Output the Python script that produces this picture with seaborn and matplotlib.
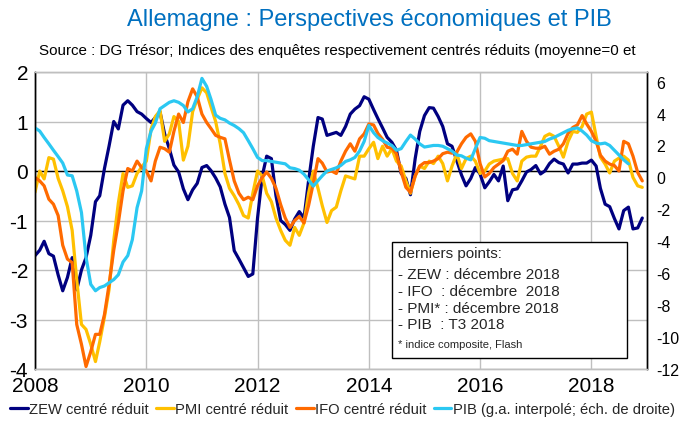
#%% libraries
import numpy as np
import pandas as pd
import matplotlib
matplotlib.use("Agg")
import matplotlib.pyplot as plt
import matplotlib.dates as mdates
from matplotlib.patches import Rectangle
import seaborn as sns

#%% data (monthly, Jan 2008 - Dec 2018)
dates = pd.date_range("2008-01-01", periods=132, freq="MS")

# ZEW, centred-reduced (left axis)
zew = [
    -1.71, -1.6, -1.42, -1.67, -1.72, -2.1, -2.42, -2.15, -1.75, -2.4, -2.0, -1.75,   # 2008
    -1.3, -0.62, -0.5, 0.05, 0.5, 1.0, 0.85, 1.33, 1.42, 1.33, 1.2, 1.15,             # 2009
    1.06, 0.98, 1.08, 1.19, 0.75, 0.45, 0.12, -0.02, -0.36, -0.58, -0.38, -0.25,      # 2010
    0.07, 0.11, 0.01, -0.14, -0.32, -0.67, -0.94, -1.61, -1.78, -1.95, -2.13, -2.08,  # 2011
    -0.95, -0.1, 0.3, 0.25, -0.5, -1.0, -1.08, -1.2, -0.97, -0.82, -0.95, -0.2,       # 2012
    0.5, 1.08, 1.05, 0.72, 0.75, 0.78, 0.72, 0.9, 1.15, 1.25, 1.32, 1.5,              # 2013
    1.45, 1.24, 1.06, 0.87, 0.68, 0.58, 0.42, -0.05, -0.15, -0.48, 0.25, 0.8,         # 2014
    1.12, 1.28, 1.27, 1.1, 0.9, 0.55, 0.5, 0.21, -0.08, -0.3, -0.15, 0.07,            # 2015
    -0.06, -0.34, -0.22, -0.07, -0.2, 0.1, -0.6, -0.38, -0.36, -0.2, -0.02, 0.03,     # 2016
    0.11, -0.06, 0.0, 0.15, 0.24, 0.17, 0.14, -0.04, 0.14, 0.14, 0.16, 0.16,          # 2017
    0.22, 0.1, -0.35, -0.67, -0.72, -0.96, -1.17, -0.8, -0.73, -1.17, -1.15, -0.95,   # 2018
]

# PMI composite, centred-reduced (left axis)
pmi = [
    -0.43, 0.0, -0.16, 0.27, 0.24, -0.15, -0.4, -0.72, -1.2, -2.2, -3.1, -3.2,
    -3.5, -3.85, -3.45, -2.95, -2.4, -1.4, -0.65, -0.05, -0.33, -0.3, -0.05, 0.08,
    0.2, 0.85, 1.1, 1.22, 0.6, 0.75, 1.1, 1.0, 0.22, 0.5, 1.2, 1.45,
    1.68, 1.58, 1.3, 1.0, 0.55, -0.05, -0.35, -0.5, -0.68, -0.9, -0.95, -0.45,
    0.0, -0.1, -0.45, -0.62, -0.95, -1.2, -1.4, -1.5, -1.14, -1.3, -1.05, -0.45,
    0.0, -0.35, -0.7, -1.04, -0.8, -0.73, -0.4, -0.1, -0.13, -0.16, 0.3, 0.3,
    0.45, 0.58, 0.25, 0.5, 0.3, 0.45, 0.2, 0.1, -0.2, -0.45, -0.1, 0.1,
    0.05, 0.2, 0.15, 0.3, 0.15, -0.2, 0.1, 0.35, 0.05, 0.25, 0.3, 0.2,
    -0.05, 0.0, 0.14, 0.2, 0.22, 0.24, 0.25, -0.05, -0.2, 0.2, 0.28, 0.3,
    0.3, 0.5, 0.7, 0.75, 0.7, 0.5, 0.28, 0.6, 0.8, 0.78, 0.9, 1.15,
    1.19, 0.7, 0.28, 0.14, -0.04, 0.2, 0.26, 0.3, 0.22, -0.13, -0.3, -0.33,
]

# IFO, centred-reduced (left axis)
ifo = [
    -0.13, -0.2, -0.3, -0.57, -0.67, -0.9, -1.5, -1.78, -1.85, -3.1, -3.5, -3.95,
    -3.65, -3.3, -3.3, -2.9, -2.3, -1.6, -1.05, -0.4, 0.05, 0.0, 0.2, 0.07,
    0.0, -0.2, 0.2, 0.48, 0.45, 0.38, 0.8, 1.15, 0.98, 1.4, 1.66, 1.5,
    1.15, 0.98, 0.86, 0.72, 0.68, 0.65, 0.22, -0.2, -0.45, -0.58, -0.53, -0.58,
    -0.3, -0.13, -0.02, -0.15, -0.35, -0.68, -0.95, -1.14, -1.0, -0.92, -1.05, -0.7,
    -0.25, 0.25, 0.16, -0.02, 0.0, -0.05, 0.2, 0.4, 0.55, 0.4, 0.65, 0.75,
    0.95, 0.93, 0.76, 0.64, 0.48, 0.46, 0.35, -0.02, -0.33, -0.43, -0.1, 0.1,
    0.17, 0.17, 0.2, 0.25, 0.35, 0.38, 0.36, 0.38, 0.55, 0.68, 0.75, 0.6,
    0.15, -0.12, -0.05, 0.07, 0.14, 0.21, 0.4, 0.44, 0.34, 0.8, 0.6, 0.48,
    0.46, 0.46, 0.5, 0.34, 0.4, 0.44, 0.55, 0.76, 0.88, 0.93, 1.12, 0.95,
    0.8, 0.6, 0.32, 0.2, 0.14, 0.11, 0.0, 0.6, 0.55, 0.3, -0.03, -0.2,
]

# PIB, g.a. in % (right axis), up to T3 2018
pib = [
    3.1, 2.9, 2.5, 2.1, 1.7, 1.3, 0.9, 0.15, 0.1, -0.85, -2.2, -5.0,
    -6.7, -7.1, -6.9, -6.8, -6.6, -6.4, -6.1, -5.3, -4.9, -3.9, -1.9, -0.85,
    1.8, 2.9, 3.4, 4.3, 4.5, 4.7, 4.8, 4.7, 4.5, 4.1, 4.3, 5.05,
    6.2, 5.7, 4.9, 3.9, 3.7, 3.6, 3.4, 3.25, 3.05, 2.8, 2.3, 1.8,
    1.25, 1.05, 1.05, 1.0, 0.95, 0.9, 0.85, 0.6, 0.55, 0.45, 0.2, -0.15,
    -0.55, -0.2, 0.1, 0.4, 0.5, 0.6, 0.75, 1.0, 1.1, 1.25, 1.65, 2.25,
    3.25, 2.8, 2.5, 2.3, 2.15, 2.0, 1.7, 1.8, 2.25, 2.65, 2.4, 2.1,
    1.9, 1.95, 2.0, 2.0, 1.95, 1.8, 1.65, 1.4, 1.35, 1.2, 1.1, 1.8,
    2.5, 2.45, 2.3, 2.25, 2.2, 2.15, 2.1, 2.05, 2.0, 2.0, 2.05, 2.1,
    2.15, 2.2, 2.25, 2.4, 2.5, 2.65, 2.8, 2.95, 3.05, 3.1, 2.9, 2.65,
    2.3, 2.15, 2.1, 2.15, 2.0, 1.7, 1.4, 1.1, 0.85,
]

labels = ['ZEW centré réduit', 'PMI centré réduit', 'IFO centré réduit',
          'PIB (g.a. interpolé; éch. de droite)']
colors = ['#000080', '#FFC000', '#FF6A00', '#2BC8F2']

df = pd.DataFrame({'date': dates, 'ZEW': zew, 'PMI': pmi, 'IFO': ifo})
df_pib = pd.DataFrame({'date': dates[:len(pib)], 'PIB': pib})

#%% plot
sns.set_theme(style='white')
plt.rcParams['font.family'] = ['Liberation Sans', 'DejaVu Sans']
plt.rcParams['axes.unicode_minus'] = False

W, H = 685, 431
fig = plt.figure(figsize=(W / 100, H / 100), dpi=100)
ax = fig.add_axes([35 / W, 1 - 370 / H, 612 / W, 297 / H])
ax2 = ax.twinx()

lw = 2.3
for col, lab, c in zip(['ZEW', 'PMI', 'IFO'], labels[:3], colors[:3]):
    sns.lineplot(data=df, x='date', y=col, ax=ax, color=c, linewidth=lw, label=lab, legend=False)
sns.lineplot(data=df_pib, x='date', y='PIB', ax=ax2, color=colors[3], linewidth=lw,
             label=labels[3], legend=False)

# left axis
ax.set_ylim(-4, 2)
ax.set_yticks(range(-4, 3))
ax.set_xlim(pd.Timestamp('2008-01-01'), pd.Timestamp('2019-01-01'))
ax.set_xticks([pd.Timestamp(f'{y}-01-01') for y in range(2008, 2019, 2)])
ax.xaxis.set_major_formatter(mdates.DateFormatter('%Y'))
ax.set_xlabel('')
ax.set_ylabel('')
ax.grid(True, color='#BFBFBF', linewidth=1)
ax.set_axisbelow(True)
ax.axhline(0, color='black', linewidth=1, zorder=1.5)
ax.tick_params(axis='both', length=0, labelsize=15, colors='black')
ax.tick_params(axis='y', pad=5)
ax.tick_params(axis='x', pad=5)

# right axis
ax2.set_ylim(-12, 6.6)
ax2.set_yticks(range(-12, 7, 2))
ax2.set_ylabel('')
ax2.tick_params(axis='y', length=0, labelsize=11.5, pad=7, colors='black')
ax2.grid(False)

for a in (ax, ax2):
    a.spines['top'].set_color('#BFBFBF')
    a.spines['bottom'].set_color('#BFBFBF')
    a.spines['left'].set_color('black')
    a.spines['right'].set_color('black')
    for s in a.spines.values():
        s.set_linewidth(1)

# titles
fig.text(369 / W, 1 - 20 / H, 'Allemagne : Perspectives économiques et PIB',
         ha='center', va='center', fontsize=17, color='#0070C0')
fig.text(337 / W, 1 - 51 / H,
         'Source : DG Trésor; Indices des enquêtes respectivement centrés réduits (moyenne=0 et',
         ha='center', va='center', fontsize=10.9, color='black')

# legend
h1, l1 = ax.get_legend_handles_labels()
h2, l2 = ax2.get_legend_handles_labels()
fig.legend(h1 + h2, l1 + l2, loc='center', bbox_to_anchor=(0.5, 1 - 410 / H), ncol=4,
           frameon=False, handlelength=1.2, handletextpad=0.1, columnspacing=0.5,
           borderaxespad=0, borderpad=0, fontsize=10.6)

# text box with the last data points
ax2.add_patch(Rectangle((392 / W, 1 - 359 / H), 235 / W, 116 / H, transform=fig.transFigure,
                        facecolor='white', edgecolor='black', linewidth=1, zorder=10))
box_lines = [('derniers points:', 254, 11), ('- ZEW : décembre 2018', 275, 11),
             ('- IFO  : décembre  2018', 292, 11), ('- PMI* : décembre 2018', 309, 11),
             ('- PIB  : T3 2018', 325, 11), ('* indice composite, Flash', 345, 8)]
for txt, y, fs in box_lines:
    fig.text(398 / W, 1 - y / H, txt, ha='left', va='center', fontsize=fs, zorder=11)

fig.savefig('out.png', dpi=100)
